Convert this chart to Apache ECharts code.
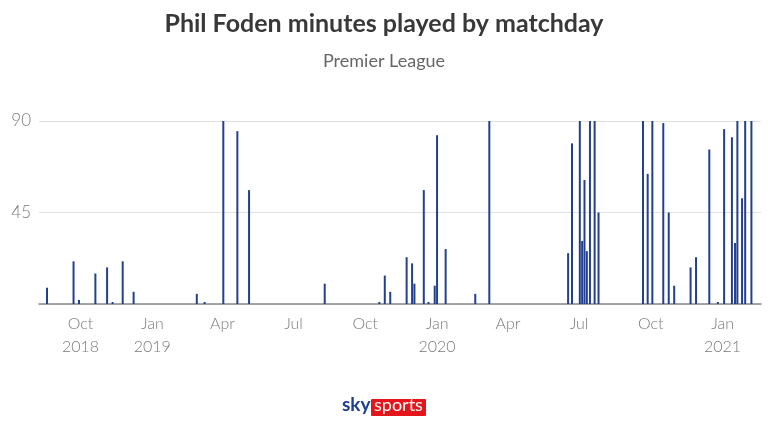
<!DOCTYPE html>
<html>
<head>
<meta charset="utf-8">
<script src="https://cdn.jsdelivr.net/npm/echarts@6/dist/echarts.min.js"></script>
<style>
  html, body { margin: 0; padding: 0; background: #fff; }
  #chart { width: 768px; height: 432px; }
</style>
</head>
<body>
<div id="chart"></div>
<script>
// match dates (Premier League games Foden featured in)
var matchDates = [
    '2018-08-19', '2018-09-22', '2018-09-29', '2018-10-20', '2018-11-04', '2018-11-11',
    '2018-11-24', '2018-12-08', '2019-02-27', '2019-03-09', '2019-04-02', '2019-04-20',
    '2019-05-05', '2019-08-10', '2019-10-19', '2019-10-26', '2019-11-02', '2019-11-23',
    '2019-11-30', '2019-12-03', '2019-12-15', '2019-12-21', '2019-12-29', '2020-01-01',
    '2020-01-12', '2020-02-19', '2020-03-08', '2020-06-17', '2020-06-22', '2020-07-02',
    '2020-07-05', '2020-07-08', '2020-07-11', '2020-07-15', '2020-07-21', '2020-07-26',
    '2020-09-21', '2020-09-27', '2020-10-03', '2020-10-17', '2020-10-24', '2020-10-31',
    '2020-11-21', '2020-11-28', '2020-12-15', '2020-12-26', '2021-01-03', '2021-01-13',
    '2021-01-17', '2021-01-20', '2021-01-26', '2021-01-30', '2021-02-07'
];
var minutesPlayed = [
    8, 21, 2, 15, 18, 1,
    21, 6, 5, 1, 90, 85,
    56, 10, 1, 14, 6, 23,
    20, 10, 56, 1, 9, 83,
    27, 5, 90, 25, 79, 90,
    31, 61, 26, 90, 90, 45,
    90, 64, 90, 89, 45, 9,
    18, 23, 76, 1, 86, 82,
    30, 90, 52, 90, 90
];
var yTicks = [0, 45, 90];
var monthNames = ['Jan', 'Feb', 'Mar', 'Apr', 'May', 'Jun', 'Jul', 'Aug', 'Sep', 'Oct', 'Nov', 'Dec'];
var axisStart = '2018-08-10';
var axisEnd = '2021-02-18';

var seriesData = matchDates.map(function (d, i) {
    return [d, minutesPlayed[i]];
});

var chart = echarts.init(document.getElementById('chart'));
var DAY = 24 * 3600 * 1000;
var startTime = new Date(axisStart).getTime();

chart.setOption({
    animation: false,
    title: [
        {
            text: 'Phil Foden minutes played by matchday',
            left: 'center',
            top: 6,
            textStyle: { fontFamily: 'Lato', fontSize: 25, fontWeight: 'bold', color: '#383838' }
        },
        {
            text: 'Premier League',
            left: 'center',
            top: 47,
            textStyle: { fontFamily: 'Lato', fontSize: 18, fontWeight: 'normal', color: '#666' }
        }
    ],
    grid: {
        left: 39,
        right: 7,
        top: 121,
        bottom: 128
    },
    xAxis: {
        type: 'time',
        min: axisStart,
        max: axisEnd,
        splitNumber: 10,
        minInterval: 92 * DAY,
        maxInterval: 92 * DAY,
        axisLine: { lineStyle: { color: '#888', width: 1.5 } },
        axisTick: { show: false },
        splitLine: { show: false },
        axisLabel: {
            fontFamily: 'Lato',
            fontSize: 16,
            fontWeight: 300,
            color: '#7a7a7a',
            lineHeight: 23,
            margin: 8,
            hideOverlap: false,
            formatter: function (value) {
                var d = new Date(value);
                var m = monthNames[d.getMonth()];
                // first label of the axis and every January carry the year
                if (d.getMonth() === 0 || value - startTime < 92 * DAY) {
                    return m + '\n' + d.getFullYear();
                }
                return m;
            }
        }
    },
    yAxis: {
        type: 'value',
        min: yTicks[0],
        max: yTicks[yTicks.length - 1],
        interval: 45,
        axisLine: { show: false },
        axisTick: { show: false },
        splitLine: { lineStyle: { color: '#e2e2e2', width: 1 } },
        axisLabel: {
            showMinLabel: false,
            fontFamily: 'Lato',
            fontSize: 17,
            fontWeight: 300,
            color: '#7a7a7a',
            margin: 8
        }
    },
    series: [
        {
            type: 'bar',
            data: seriesData,
            barWidth: 2,
            itemStyle: { color: '#23408e' }
        }
    ],
    graphic: [
        {
            type: 'text',
            left: 342,
            top: 395,
            style: {
                text: 'sky',
                fontFamily: 'Lato',
                fontSize: 19,
                fontWeight: 'bold',
                fill: '#1d3f8f'
            }
        },
        {
            type: 'rect',
            left: 371,
            top: 399,
            shape: { width: 55, height: 17, r: 1 },
            style: { fill: '#e4161b' }
        },
        {
            type: 'text',
            left: 374,
            top: 396,
            style: {
                text: 'sports',
                fontFamily: 'Lato',
                fontSize: 18,
                fill: '#fff'
            }
        }
    ]
});
</script>
</body>
</html>
